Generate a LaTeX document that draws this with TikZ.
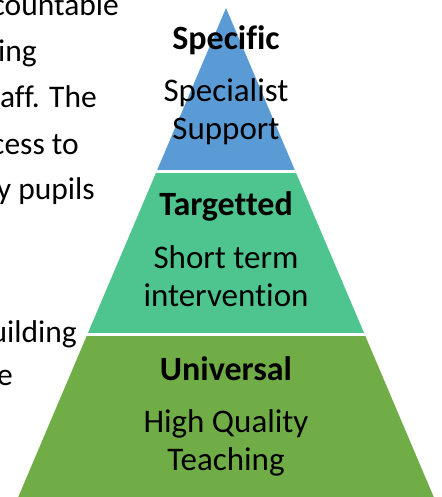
\documentclass[tikz,border=0pt]{standalone}
\usepackage{fontspec}
\setmainfont{Carlito}[Ligatures=NoCommon]
\usetikzlibrary{calc}

\definecolor{specblue}{RGB}{91,155,213}
\definecolor{targgreen}{RGB}{78,197,142}
\definecolor{univgreen}{RGB}{112,173,71}

\tikzset{
  tiertext/.style={font=\fontsize{33}{38}\selectfont, align=center, inner sep=0pt, anchor=base},
  tierhead/.style={font=\fontsize{34}{38}\selectfont\bfseries, inner sep=0pt, anchor=base},
  bodytext/.style={font=\fontsize{31.5}{38}\selectfont, inner sep=0pt, anchor=base east},
}

\begin{document}
\begin{tikzpicture}[x=1pt, y=-1pt]
      \useasboundingbox (0,0) rectangle (441,497);
      \clip (0,0) rectangle (441,497);

      % text of the page, cut by the left edge
      \node[bodytext] (line1) at (119,16) {countable};
      \node[bodytext] (line2) at (37,62) {ing};
      \node[bodytext] (line3) at (97,108) {aff. The};
      \node[bodytext] (line4) at (79,154) {cess to};
      \node[bodytext] (line5) at (95,199) {y pupils};
      \node[bodytext] (line6) at (77,342) {uilding};
      \node[bodytext] (line7) at (13,385) {e};

      % pyramid
      \coordinate (apex) at (226,8);
      \coordinate (baseleft) at (17,500);
      \coordinate (baseright) at (435,500);
      \begin{scope}
        \clip (apex) -- (baseright) -- (baseleft) -- cycle;
        \fill[specblue] (0,0) rectangle (441,171.5);
        \fill[targgreen] (0,171.5) rectangle (441,334.5);
        \fill[univgreen] (0,334.5) rectangle (441,500);
        \draw[white, line width=3pt] (0,171.5) -- (441,171.5);
        \draw[white, line width=3pt] (0,334.5) -- (441,334.5);
      \end{scope}

      % labels (base = baseline of the last line)
      \node[tierhead] (spechead) at (226,50) {Specific};
      \node[tiertext] (spectext) at (226,140) {Specialist\\Support};
      \node[tierhead] (targhead) at (226,215) {Targetted};
      \node[tiertext] (targtext) at (226,306) {Short term\\intervention};
      \node[tierhead] (univhead) at (226,380) {Universal};
      \node[tiertext] (univtext) at (226,470) {High Quality\\Teaching};
    \end{tikzpicture}
\end{document}
